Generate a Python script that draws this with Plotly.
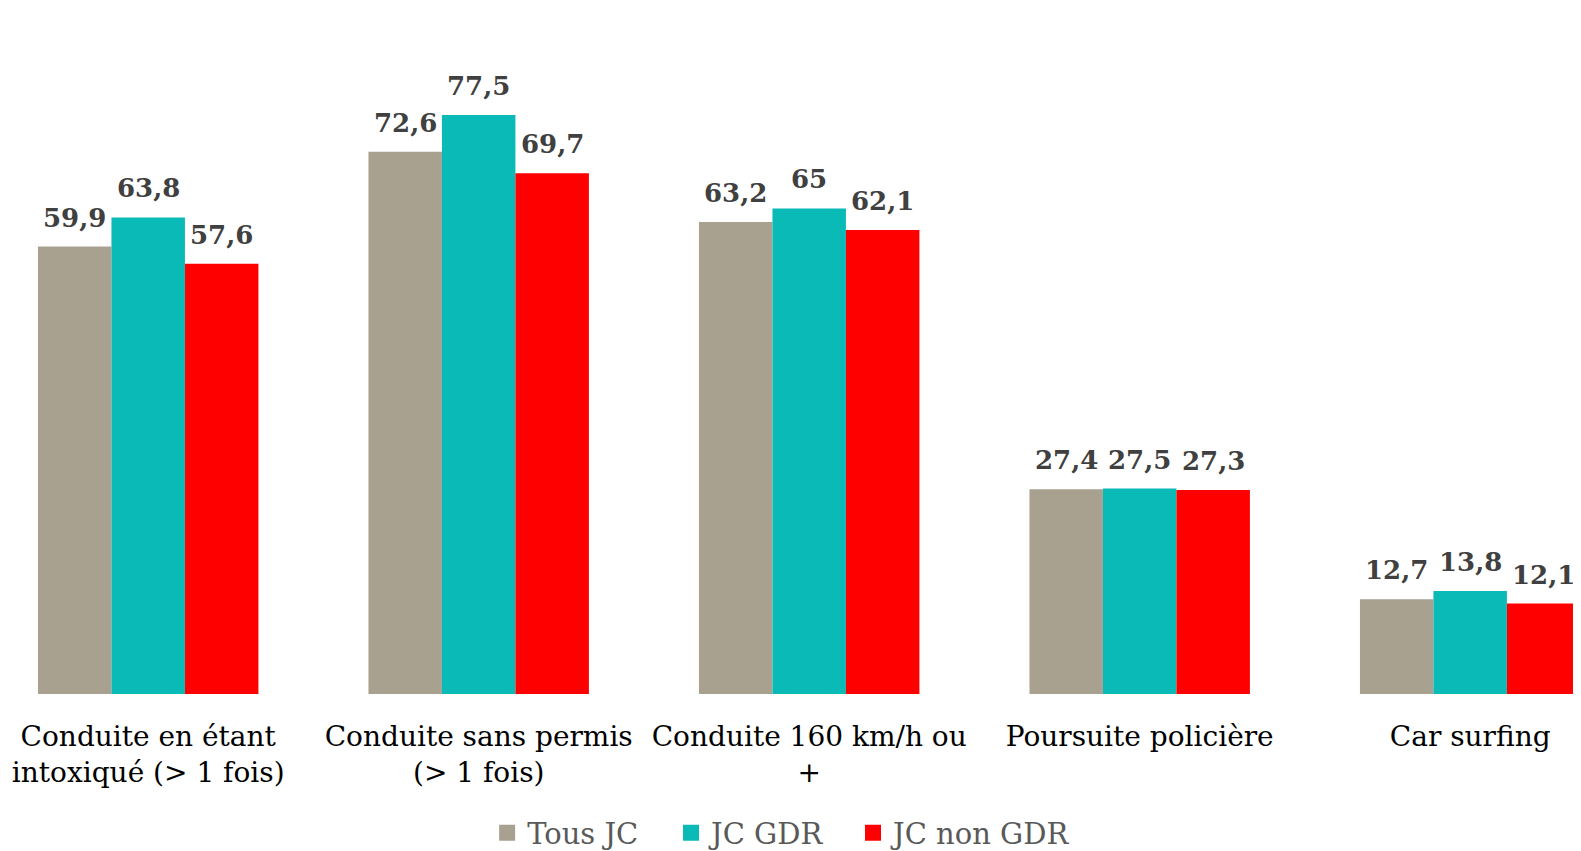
import plotly.graph_objects as go

categories = ["Conduite en étant<br>intoxiqué (> 1 fois)", "Conduite sans permis<br>(> 1 fois)",
              "Conduite 160 km/h ou<br>+", "Poursuite policière", "Car surfing"]
tous_jc = [59.9, 72.6, 63.2, 27.4, 12.7]
jc_gdr = [63.8, 77.5, 65.0, 27.5, 13.8]
jc_non_gdr = [57.6, 69.7, 62.1, 27.3, 12.1]
series_names = ["Tous JC", "JC GDR", "JC non GDR"]
colors = ["#A8A190", "#0ABAB6", "#FF0000"]

BARGAP = 0.333
NSER = 3
W = (1 - BARGAP) / NSER

def fmt(v):
    s = f"{v:.1f}".replace(".", ",")
    return s[:-2] if s.endswith(",0") else s

fig = go.Figure()
all_series = [tous_jc, jc_gdr, jc_non_gdr]
for k, (name, vals, col) in enumerate(zip(series_names, all_series, colors)):
    fig.add_trace(go.Bar(
        x=list(range(len(categories))), y=vals, name=name, showlegend=False,
        marker=dict(color=col, line=dict(width=0)),
    ))
    for i, v in enumerate(vals):
        fig.add_annotation(
            x=i + (k - (NSER - 1) / 2) * W, y=v, xref="x", yref="y",
            text="<b>" + fmt(v) + "</b>", showarrow=False,
            yanchor="bottom", xanchor="center", yshift=12,
            font=dict(family="DejaVu Serif", size=26, color="#404040"),
        )

legend_ids = ["legend", "legend2", "legend3"]
legend_x = [0.3046, 0.4215, 0.5372]
for name, col, lid in zip(series_names, colors, legend_ids):
    fig.add_trace(go.Scatter(
        x=[None], y=[None], mode="markers", name=name, legend=lid,
        marker=dict(color=col, symbol="square", size=16),
    ))

legend_style = dict(orientation="h", xanchor="left", y=-0.2026, yanchor="middle",
                    font=dict(size=29, color="#595959"), itemwidth=30,
                    bgcolor="rgba(0,0,0,0)")

fig.update_layout(
    width=1573, height=843,
    margin=dict(l=0, r=0, t=0, b=157, autoexpand=False),
    barmode="group", bargap=BARGAP, bargroupgap=0,
    plot_bgcolor="white", paper_bgcolor="white",
    font=dict(family="DejaVu Serif", size=28, color="black"),
    xaxis=dict(tickmode="array", tickvals=list(range(len(categories))), ticktext=categories,
               range=[-0.4242, 4.3353], showgrid=False, zeroline=False, showline=False,
               automargin=False,
               ticks="", ticklabelstandoff=23, tickfont=dict(size=28, color="black")),
    yaxis=dict(range=[0, 91.83], visible=False, automargin=False),
    legend=dict(x=legend_x[0], **legend_style),
    legend2=dict(x=legend_x[1], **legend_style),
    legend3=dict(x=legend_x[2], **legend_style),
)
fig.write_html("out.html")
